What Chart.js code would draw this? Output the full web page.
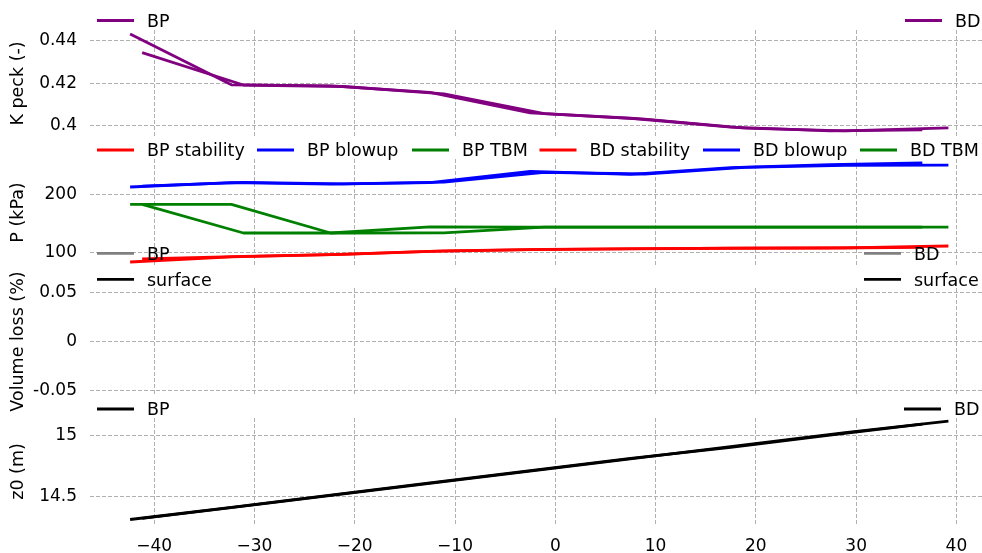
<!DOCTYPE html>
<html>
<head>
  <meta charset="UTF-8" />
  <title>Face pressure along alignment</title>
  <script src="https://cdn.jsdelivr.net/npm/chart.js"></script>
  <style>
    body {
      margin: 0;
      background: white;
    }
    #wrap {
      position: relative;
      width: 982px;
      height: 553px;
      overflow: hidden;
    }
    #wrap canvas {
      position: absolute;
      left: 0;
    }
  </style>
</head>
<body>
  <div id="wrap">
    <canvas id="kChart" width="982" height="162" style="top:0px"></canvas>
    <canvas id="pChart" width="982" height="162" style="top:129px"></canvas>
    <canvas id="vChart" width="982" height="180" style="top:240px"></canvas>
    <canvas id="zChart" width="982" height="165" style="top:388px"></canvas>
  </div>
  <script>
    // chainage of the calculation points (m)
    const bpX = [-42.4, -32.3, -22.4, -12.5, -2.5, 7.5, 17.5, 27.4, 36.6];
    const bdX = [-41.2, -31.1, -21.1, -11.1, -1.1, 8.9, 18.9, 28.9, 39.2];

    // K peck (-)
    const kBP = [0.4431, 0.4193, 0.4188, 0.4157, 0.4061, 0.4036, 0.3994, 0.3977, 0.3981];
    const kBD = [0.4344, 0.4192, 0.4185, 0.4150, 0.4058, 0.4032, 0.3990, 0.3977, 0.3991];

    // pressures (kPa)
    const stabBP = [83.3, 92.0, 96.0, 101.7, 104.6, 106.0, 107.0, 107.4, 108.6];
    const blowBP = [212.6, 220.0, 217.7, 220.0, 239.6, 234.5, 246.0, 251.2, 254.0];
    const tbmBP = [182.8, 182.8, 133.3, 144.0, 143.6, 143.6, 143.6, 143.6, 143.6];
    const stabBD = [88.8, 93.1, 96.5, 102.5, 105.0, 106.5, 107.2, 107.5, 110.9];
    const blowBD = [214.0, 220.5, 218.0, 221.0, 238.0, 235.0, 246.5, 250.0, 250.5];
    const tbmBD = [182.8, 133.3, 133.3, 133.6, 143.6, 143.6, 143.6, 143.6, 143.6];

    // volume loss (%) - no values in this run
    const vlBP = [null, null, null, null, null, null, null, null, null];
    const vlBD = [null, null, null, null, null, null, null, null, null];
    const surfBP = [null, null, null, null, null, null, null, null, null];
    const surfBD = [null, null, null, null, null, null, null, null, null];

    // tunnel axis depth z0 (m)
    const zBP = [14.31, 14.41, 14.51, 14.61, 14.71, 14.81, 14.90, 15.00, 15.09];
    const zBD = [14.32, 14.42, 14.52, 14.62, 14.72, 14.82, 14.92, 15.02, 15.115];

    // tick values
    const xTicks = [-40, -30, -20, -10, 0, 10, 20, 30, 40];
    const kTicks = [0.4, 0.42, 0.44];
    const pTicks = [100, 200];
    const vTicks = [-0.05, 0, 0.05];
    const zTicks = [14.5, 15];

    const TICK_FONT = { family: 'DejaVu Sans', size: 17 };
    const LABEL_FONT = { family: 'DejaVu Sans', size: 17.5 };
    const GRID = '#b0b0b0';

    const pts = (xs, ys) => xs.map((x, i) => ({ x: x, y: ys[i] }));

    const legendPlugin = {
      id: 'sideLegend',
      afterDraw(chart, args, opts) {
        const ctx = chart.ctx;
        ctx.save();
        ctx.font = '17.5px "DejaVu Sans"';
        ctx.textBaseline = 'alphabetic';
        (opts.items || []).forEach(it => {
          const ds = chart.data.datasets[it.ds];
          ctx.strokeStyle = ds.borderColor;
          ctx.lineWidth = 2.8;
          ctx.beginPath();
          ctx.moveTo(it.x, it.y);
          ctx.lineTo(it.x + 37, it.y);
          ctx.stroke();
          ctx.fillStyle = '#000';
          ctx.fillText(ds.label, it.x + 50, it.y + 6.3);
        });
        ctx.restore();
      }
    };

    function line(label, xs, ys, color) {
      return {
        label: label,
        data: pts(xs, ys),
        borderColor: color,
        backgroundColor: color,
        borderWidth: 2.8,
        borderJoinStyle: 'round',
        pointRadius: 0,
        tension: 0,
        fill: false
      };
    }

    function makeChart(id, cfg) {
      const ctx = document.getElementById(id).getContext('2d');
      return new Chart(ctx, {
        type: 'line',
        data: { datasets: cfg.datasets },
        plugins: [legendPlugin],
        options: {
          responsive: false,
          animation: false,
          layout: { padding: { top: cfg.padTop, bottom: cfg.padBottom, left: 0, right: 0 } },
          plugins: {
            legend: { display: false },
            tooltip: { enabled: false },
            sideLegend: { items: cfg.legend }
          },
          scales: {
            x: {
              type: 'linear',
              min: -46.4,
              max: 42.55,
              afterBuildTicks: s => { s.ticks = xTicks.map(v => ({ value: v })); },
              afterFit: s => { s.height = cfg.xHeight; },
              ticks: {
                display: cfg.showX,
                padding: 11,
                color: '#000',
                font: TICK_FONT,
                maxRotation: 0,
                callback: v => v < 0 ? '\u2212' + (-v) : String(v)
              },
              grid: { color: GRID, lineWidth: 1, drawTicks: false },
              border: { display: false, dash: [4, 2] }
            },
            y: {
              type: 'linear',
              min: cfg.yMin,
              max: cfg.yMax,
              afterBuildTicks: s => { s.ticks = cfg.yTicks.map(v => ({ value: v })); },
              afterFit: s => { s.width = 90; },
              ticks: {
                padding: 13,
                color: '#000',
                font: TICK_FONT,
                callback: v => String(+v.toFixed(4))
              },
              title: {
                display: true,
                text: cfg.title,
                color: '#000',
                font: LABEL_FONT,
                padding: { top: 8, bottom: 0 }
              },
              grid: { color: GRID, lineWidth: 1, drawTicks: false },
              border: { display: false, dash: [4, 2] }
            }
          }
        }
      });
    }

    makeChart('kChart', {
      datasets: [
        line('BP', bpX, kBP, '#800080'),
        line('BD', bdX, kBD, '#800080')
      ],
      yMin: 0.3948, yMax: 0.4450, yTicks: kTicks, title: 'K peck (-)',
      padTop: 30, padBottom: 25, xHeight: 0, showX: false,
      legend: [{ ds: 0, x: 97, y: 20.5 }, { ds: 1, x: 905, y: 20.5 }]
    });

    makeChart('pChart', {
      datasets: [
        line('BP stability', bpX, stabBP, '#ff0000'),
        line('BP blowup', bpX, blowBP, '#0000ff'),
        line('BP TBM', bpX, tbmBP, '#008000'),
        line('BD stability', bdX, stabBD, '#ff0000'),
        line('BD blowup', bdX, blowBD, '#0000ff'),
        line('BD TBM', bdX, tbmBD, '#008000')
      ],
      yMin: 76.4, yMax: 260.9, yTicks: pTicks, title: 'P (kPa)',
      padTop: 30, padBottom: 25, xHeight: 0, showX: false,
      legend: [
        { ds: 0, x: 97, y: 21 }, { ds: 1, x: 257, y: 21 }, { ds: 2, x: 412, y: 21 },
        { ds: 3, x: 539.5, y: 21 }, { ds: 4, x: 703, y: 21 }, { ds: 5, x: 860, y: 21 }
      ]
    });

    makeChart('vChart', {
      datasets: [
        line('BP', bpX, vlBP, '#808080'),
        line('surface', bpX, surfBP, '#000000'),
        line('BD', bdX, vlBD, '#808080'),
        line('surface', bdX, surfBD, '#000000')
      ],
      yMin: -0.055, yMax: 0.055, yTicks: vTicks, title: 'Volume loss (%)',
      padTop: 48, padBottom: 25, xHeight: 0, showX: false,
      legend: [
        { ds: 0, x: 97, y: 13.3 }, { ds: 1, x: 97, y: 39.3 },
        { ds: 2, x: 864, y: 13.3 }, { ds: 3, x: 864, y: 39.3 }
      ]
    });

    makeChart('zChart', {
      datasets: [
        line('BP', bpX, zBP, '#000000'),
        line('BD', bdX, zBD, '#000000')
      ],
      yMin: 14.265, yMax: 15.14, yTicks: zTicks, title: 'z0 (m)',
      padTop: 30, padBottom: 0, xHeight: 28, showX: true,
      legend: [{ ds: 0, x: 97, y: 21 }, { ds: 1, x: 904, y: 21 }]
    });
  </script>
</body>
</html>
